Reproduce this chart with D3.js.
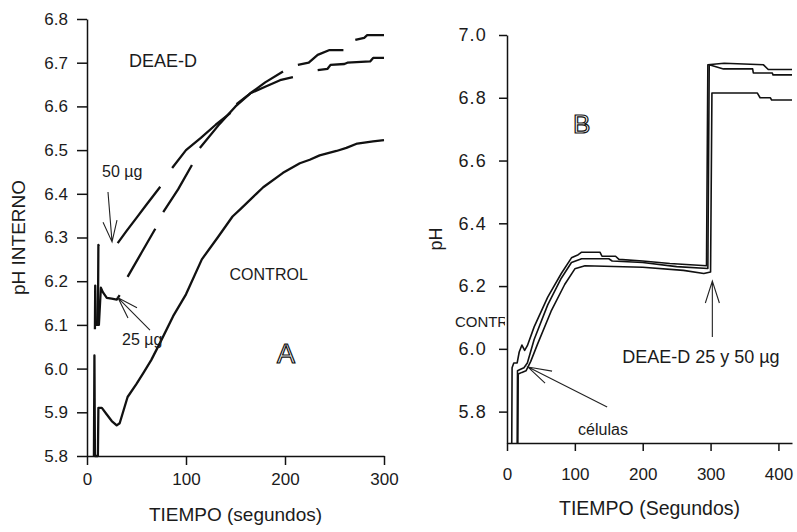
<!DOCTYPE html>
<html>
<head>
<meta charset="utf-8">
<script src="https://cdn.jsdelivr.net/npm/d3@7"></script>
<style>
body{margin:0;background:#fff;}
text{font-family:"Liberation Sans",Arial,sans-serif;fill:#1b1b1b;}
.axis path,.axis line{stroke:#111;stroke-width:1.5;}
.axis text{font-size:17px;fill:#1b1b1b;}
.axisB-y text{font-size:18px;letter-spacing:1.2px;}
.trace{fill:none;stroke:#111;stroke-linejoin:round;}
.arrow{fill:none;stroke:#222;stroke-width:1.1;}
</style>
</head>
<body>
<script>
// ---- panel A : pH interno vs tiempo (s) ----
var aTicksX = [0, 100, 200, 300];
var aTicksY = [5.8, 5.9, 6.0, 6.1, 6.2, 6.3, 6.4, 6.5, 6.6, 6.7, 6.8];

// null = gap in the trace
var aControl = [[7,5.8],[7.5,6.03],[8,5.8],[11,5.8],[11.5,5.91],[15,5.91],[20,5.895],[25,5.88],[30,5.87],[33,5.875],
  [41,5.935],[50,5.965],[57,5.99],[65,6.02],[74,6.06],[87,6.12],[100,6.17],[116,6.25],[132,6.30],[147,6.348],
  [155,6.365],[171,6.40],[178,6.415],[198,6.448],[215,6.47],[225,6.478],[235,6.488],[252,6.498],[262,6.505],
  [273,6.515],[289,6.52],[300,6.523]];
var a25 = [[8,6.09],[8.3,6.19],[9,6.10],[12,6.10],[14,6.185],[16,6.175],[20,6.162],[25,6.16],[30,6.158],[33,6.168],null,
  [41,6.21],[55,6.265],[69,6.32],null,[77,6.358],[92,6.41],[106,6.466],null,[114,6.505],[134,6.56],[150,6.60],
  [165,6.63],[180,6.645],[195,6.66],[208,6.667],null,[233,6.683],[243,6.686],[246,6.695],[260,6.697],[263,6.70],
  [286,6.703],[289,6.711],[300,6.711]];
var a50 = [[11,6.10],[11.5,6.283],[12,6.28],null,[31,6.287],[40,6.315],[50,6.345],[60,6.375],[74,6.416],null,
  [86,6.459],[100,6.50],[115,6.528],[130,6.558],[145,6.585],null,[151,6.605],[165,6.63],[180,6.655],[198,6.68],null,
  [213,6.695],[224,6.70],[233,6.718],[245,6.729],[259,6.729],null,[271,6.752],[280,6.757],[283,6.763],[300,6.763]];

// ---- panel B : pH vs tiempo (s) ----
var bTicksX = [0, 100, 200, 300, 400];
var bTicksY = [5.8, 6.0, 6.2, 6.4, 6.6, 6.8, 7.0];

var bCurve1 = [[7,5.7],[7.5,5.94],[10,5.955],[15,5.955],[18,5.99],[22,6.012],[26,5.995],[30,6.01],[40,6.07],[60,6.165],
  [80,6.24],[95,6.29],[105,6.30],[110,6.308],[137,6.308],[140,6.295],[160,6.295],[165,6.285],[200,6.28],[240,6.272],
  [294,6.265],[296,6.905],[320,6.91],[378,6.905],[385,6.89],[420,6.89]];
var bCurve2 = [[15,5.7],[15.5,5.93],[20,5.935],[25,5.94],[30,5.955],[40,6.03],[60,6.14],[80,6.225],[95,6.275],
  [110,6.287],[150,6.287],[155,6.28],[200,6.275],[250,6.262],[296,6.256],[298,6.905],[319,6.892],[362,6.892],
  [363,6.879],[391,6.879],[392,6.873],[420,6.873]];
var bCurve3 = [[16,5.7],[16.5,5.92],[22,5.925],[28,5.93],[35,5.96],[45,6.015],[65,6.12],[85,6.205],[100,6.255],
  [115,6.265],[200,6.26],[260,6.25],[290,6.24],[300,6.245],[302,6.815],[369,6.815],[373,6.80],[388,6.80],
  [390,6.793],[420,6.793]];

var svg = d3.select("body").append("svg").attr("width", 797).attr("height", 532);

// scales
var xA = d3.scaleLinear().domain([0, 300]).range([87, 384]);
var yA = d3.scaleLinear().domain([5.8, 6.8]).range([456, 19]);
var xB = d3.scaleLinear().domain([0, 420]).range([507, 792]);
var yB = d3.scaleLinear().domain([5.7, 7.0]).range([443, 35]);

var fmt = d3.format(".1f");

// axes A
svg.append("g").attr("class", "axis").attr("transform", "translate(0,456)")
  .call(d3.axisBottom(xA).tickValues(aTicksX).tickSize(9).tickSizeOuter(0).tickPadding(8));
svg.append("g").attr("class", "axis").attr("transform", "translate(87,0)")
  .call(d3.axisLeft(yA).tickValues(aTicksY).tickFormat(fmt).tickSize(10).tickSizeOuter(0).tickPadding(9));

// axes B
svg.append("g").attr("class", "axis").attr("transform", "translate(0,443)")
  .call(d3.axisBottom(xB).tickValues(bTicksX).tickSize(8).tickSizeOuter(0).tickPadding(17));
svg.append("g").attr("class", "axis axisB-y").attr("transform", "translate(507,0)")
  .call(d3.axisLeft(yB).tickValues(bTicksY).tickFormat(fmt).tickSize(8).tickSizeOuter(0).tickPadding(12));

// traces
var lineA = d3.line().defined(d => d !== null).x(d => xA(d[0])).y(d => yA(d[1]));
var lineB = d3.line().x(d => xB(d[0])).y(d => yB(d[1]));

[aControl, a25, a50].forEach(function(s){
  svg.append("path").datum(s).attr("class", "trace").attr("stroke-width", 2.3).attr("d", lineA);
});
[bCurve1, bCurve2, bCurve3].forEach(function(s){
  svg.append("path").datum(s).attr("class", "trace").attr("stroke-width", 1.6).attr("d", lineB);
});

// axis titles
svg.append("text").attr("x", xA(150)).attr("y", 521).attr("text-anchor", "middle")
  .style("font-size", "19px").text("TIEMPO (segundos)");
svg.append("text").attr("transform", "translate(25," + yA(6.3) + ") rotate(-90)").attr("text-anchor", "middle")
  .style("font-size", "19px").text("pH INTERNO");
svg.append("text").attr("x", xB(210)).attr("y", 515).attr("text-anchor", "middle")
  .style("font-size", "19.5px").text("TIEMPO (Segundos)");
svg.append("text").attr("transform", "translate(442," + yB(6.35) + ") rotate(-90)").attr("text-anchor", "middle")
  .style("font-size", "18px").text("pH");

// annotations A
function label(x, y, str, size){
  return svg.append("text").attr("x", x).attr("y", y).style("font-size", size + "px").text(str);
}
label(xA(42.4), yA(6.69), "DEAE-D", 18);
label(xA(15.2), yA(6.438), "50 µg", 16);
label(xA(35.4), yA(6.054), "25 µg", 16);
label(xA(144), yA(6.203), "CONTROL", 16);
label(xA(192), yA(6.013), "A", 27).style("fill", "#fff").style("stroke", "#111").style("stroke-width", 1.2);

function arrow(xs, ys, tail, tip, h1, h2){
  var p = d3.path();
  p.moveTo(xs(tail[0]), ys(tail[1])); p.lineTo(xs(tip[0]), ys(tip[1]));
  p.moveTo(xs(h1[0]), ys(h1[1])); p.lineTo(xs(tip[0]), ys(tip[1])); p.lineTo(xs(h2[0]), ys(h2[1]));
  svg.append("path").attr("class", "arrow").attr("d", p.toString());
}
arrow(xA, yA, [21.2, 6.404], [25.3, 6.290], [16.2, 6.335], [30.3, 6.340]);
arrow(xA, yA, [63.6, 6.088], [31.3, 6.162], [41.4, 6.116], [50.5, 6.139]);

// annotations B
label(xB(97.4), yB(6.688), "B", 26).style("fill", "#fff").style("stroke", "#111").style("stroke-width", 1.2);
svg.append("clipPath").attr("id", "cutB").append("rect").attr("x", 400).attr("y", 0).attr("width", 105).attr("height", 532);
label(xB(-76.8), yB(6.07), "CONTROL", 15).attr("clip-path", "url(#cutB)");
label(xB(169.7), yB(5.955), "DEAE-D 25 y 50 µg", 18);
label(xB(104.8), yB(5.725), "células", 16);
arrow(xB, yB, [147.6, 5.815], [31, 5.942], [66.4, 5.929], [56.1, 5.891]);
arrow(xB, yB, [302.6, 6.038], [302.6, 6.216], [292.3, 6.146], [313, 6.146]);
</script>
</body>
</html>
